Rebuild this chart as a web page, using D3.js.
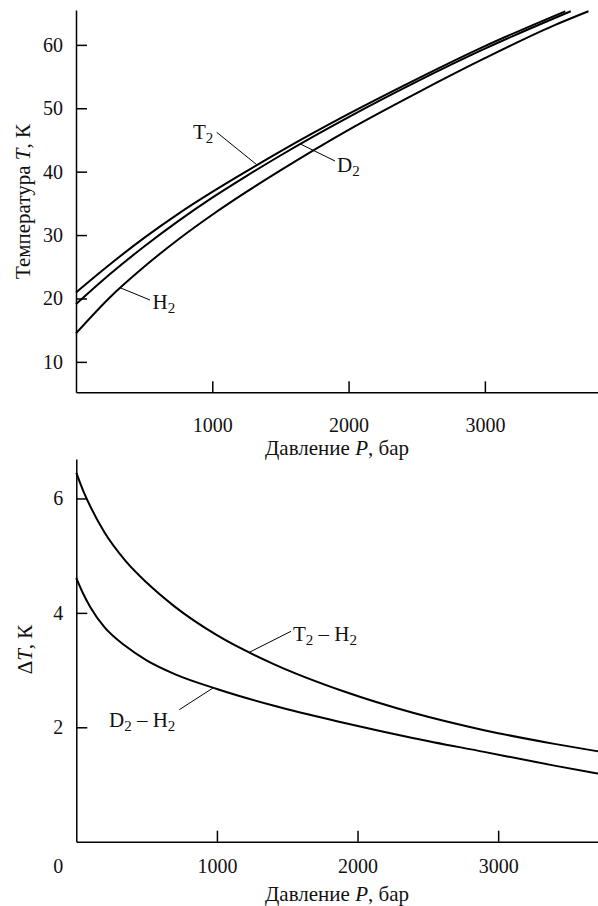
<!DOCTYPE html>
<html>
<head>
<meta charset="utf-8">
<script src="https://cdn.jsdelivr.net/npm/d3@7"></script>
<style>
body { margin: 0; background: #fff; }
svg { font-family: "Liberation Serif", "DejaVu Serif", serif; }
.axis path, .axis line { stroke: #000; stroke-width: 1.5; }
.axis text { font-size: 20px; fill: #111; font-family: "Liberation Serif", "DejaVu Serif", serif; }
.curve { fill: none; stroke: #000; stroke-width: 2; }
.lead { stroke: #000; stroke-width: 1; }
.lbl { font-size: 21px; fill: #111; }
</style>
</head>
<body>
<svg width="598" height="906"></svg>
<script>
// --- top panel: melting temperature vs pressure ---
var h2P = [0, 250, 500, 750, 1000, 1250, 1500, 2000, 2500, 3000, 3500, 3760];
var h2T = [14.5, 20.2, 25.0, 29.3, 33.2, 36.8, 40.2, 46.6, 52.4, 57.9, 63.0, 65.3];
var d2P = [0, 250, 500, 750, 1000, 1250, 1500, 2000, 2500, 3000, 3630];
var d2T = [19.1, 23.85, 28.2, 32.2, 35.9, 39.3, 42.55, 48.6, 54.2, 59.4, 65.3];
var t2P = [0, 250, 500, 750, 1000, 1250, 1500, 2000, 2500, 3000, 3590];
var t2T = [20.95, 25.4, 29.55, 33.35, 36.8, 40.05, 43.2, 49.1, 54.6, 59.8, 65.3];
var topYTicks = [10, 20, 30, 40, 50, 60];
var xTicks = [1000, 2000, 3000];

// --- bottom panel: isotope difference ---
var dP = [0, 50, 100, 200, 350, 500, 700, 1000, 1400, 1900, 2400, 2900, 3400, 3710];
var t2h2dT = [6.45, 6.13, 5.86, 5.41, 4.91, 4.53, 4.11, 3.61, 3.11, 2.63, 2.25, 1.95, 1.71, 1.58];
var d2h2dT = [4.61, 4.33, 4.10, 3.75, 3.42, 3.17, 2.93, 2.67, 2.38, 2.08, 1.81, 1.57, 1.33, 1.19];
var botYTicks = [2, 4, 6];

var svg = d3.select("svg");

var xTop = d3.scaleLinear().domain([0, 3830]).range([76, 598]),
    yTop = d3.scaleLinear().domain([5.2, 65.5]).range([392.3, 10]);
var xBot = d3.scaleLinear().domain([0, 3710]).range([76.3, 598]),
    yBot = d3.scaleLinear().domain([0, 6.69]).range([841.7, 459]);

function zip(a, b) { return a.map(function(v, i) { return [v, b[i]]; }); }

function styleAxis(g) {
  g.attr("font-family", null).attr("font-size", null);
  g.selectAll("text").attr("fill", "#111");
}

// axes
svg.append("g").attr("class", "axis")
  .attr("transform", "translate(0,392.3)")
  .call(d3.axisBottom(xTop).tickValues(xTicks).tickSize(-11).tickSizeOuter(0).tickPadding(26).tickFormat(d3.format("d")))
  .call(styleAxis);
svg.append("g").attr("class", "axis")
  .attr("transform", "translate(76,0)")
  .call(d3.axisLeft(yTop).tickValues(topYTicks).tickSize(-11).tickSizeOuter(0).tickPadding(13).tickFormat(d3.format("d")))
  .call(styleAxis);

svg.append("g").attr("class", "axis")
  .attr("transform", "translate(0,841.7)")
  .call(d3.axisBottom(xBot).tickValues(xTicks).tickSize(-11).tickSizeOuter(0).tickPadding(17).tickFormat(d3.format("d")))
  .call(styleAxis);
svg.append("g").attr("class", "axis")
  .attr("transform", "translate(" + xBot(0) + ",0)")
  .call(d3.axisLeft(yBot).tickValues(botYTicks).tickSize(-11).tickSizeOuter(0).tickPadding(13).tickFormat(d3.format("d")))
  .call(styleAxis);

svg.append("text").attr("class", "lbl")
  .attr("x", xBot(0) - 13).attr("y", 873)
  .attr("text-anchor", "end").style("font-size", "20px").text("0");

// curves
var lineTop = d3.line().x(d => xTop(d[0])).y(d => yTop(d[1])).curve(d3.curveMonotoneX);
var lineBot = d3.line().x(d => xBot(d[0])).y(d => yBot(d[1])).curve(d3.curveMonotoneX);

[zip(h2P, h2T), zip(d2P, d2T), zip(t2P, t2T)].forEach(function(s) {
  svg.append("path").attr("class", "curve").attr("d", lineTop(s));
});
[zip(dP, t2h2dT), zip(dP, d2h2dT)].forEach(function(s) {
  svg.append("path").attr("class", "curve").attr("d", lineBot(s));
});

// labels with leaders
function subLabel(x, y, parts, anchor) {
  var t = svg.append("text").attr("class", "lbl").attr("x", x).attr("y", y)
    .attr("text-anchor", anchor || "start");
  parts.forEach(function(p) {
    if (p.sub) t.append("tspan").attr("dy", 4).style("font-size", "15px").text(p.sub);
    else t.append("tspan").attr("dy", p.up ? -4 : 0).text(p.t);
  });
}
function leader(x1, y1, x2, y2) {
  svg.append("line").attr("class", "lead").attr("x1", x1).attr("y1", y1).attr("x2", x2).attr("y2", y2);
}

leader(xTop(1326), yTop(41.1), 216.7, 132.3);
subLabel(193, 139, [{t: "T"}, {sub: "2"}]);
leader(xTop(1643), yTop(44.4), 335, 161);
subLabel(337, 171.5, [{t: "D"}, {sub: "2"}]);
leader(xTop(323), yTop(21.7), 150, 300);
subLabel(152.5, 309, [{t: "H"}, {sub: "2"}]);

leader(xBot(1230), yBot(3.31), 291, 631.3);
subLabel(293, 641, [{t: "T"}, {sub: "2"}, {t: " \u2013 H", up: true}, {sub: "2"}]);
leader(xBot(974), yBot(2.69), 179.3, 709.7);
subLabel(109, 727, [{t: "D"}, {sub: "2"}, {t: " \u2013 H", up: true}, {sub: "2"}]);

// axis titles
function xTitle(y) {
  var t = svg.append("text").attr("class", "lbl").attr("x", 337).attr("y", y).attr("text-anchor", "middle");
  t.append("tspan").text("Давление ");
  t.append("tspan").style("font-style", "italic").text("P");
  t.append("tspan").text(", бар");
}
xTitle(455);
xTitle(901);

var ty = svg.append("text").attr("class", "lbl").attr("text-anchor", "middle")
  .attr("transform", "translate(30,201.5) rotate(-90)");
ty.append("tspan").text("Температура ");
ty.append("tspan").style("font-style", "italic").text("T");
ty.append("tspan").text(", К");

var by = svg.append("text").attr("class", "lbl").attr("text-anchor", "middle")
  .attr("transform", "translate(32,649.5) rotate(-90)");
by.append("tspan").text("\u0394");
by.append("tspan").style("font-style", "italic").text("T");
by.append("tspan").text(", К");
</script>
</body>
</html>
